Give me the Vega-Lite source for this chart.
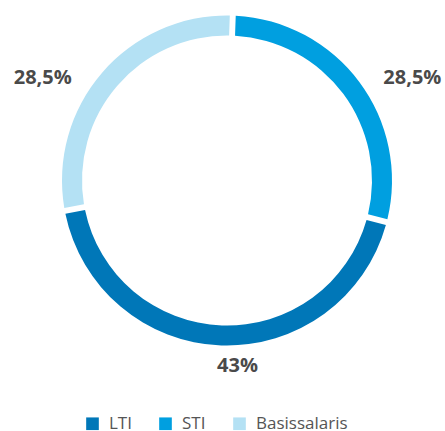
{
  "$schema": "https://vega.github.io/schema/vega-lite/v6.json",
  "width": 436,
  "height": 361,
  "autosize": {"type": "none"},
  "padding": {"left": 9, "top": 0, "right": 0, "bottom": 70},
  "background": "white",
  "config": {
    "view": {"stroke": null},
    "locale": {"number": {"decimal": ",", "thousands": ".", "grouping": [3], "currency": ["", " €"]}}
  },
  "data": {
    "values": [
      {"category": "STI", "share": 0.285, "order": 1},
      {"category": "LTI", "share": 0.43, "order": 2},
      {"category": "Basissalaris", "share": 0.285, "order": 3}
    ]
  },
  "encoding": {
    "theta": {"field": "share", "type": "quantitative", "stack": true, "scale": {"range": [0.035, 6.3182]}},
    "order": {"field": "order", "type": "quantitative"}
  },
  "layer": [
    {
      "mark": {"type": "arc", "innerRadius": 145, "outerRadius": 165, "padAngle": 0.027},
      "encoding": {
        "color": {
          "field": "category",
          "type": "nominal",
          "scale": {"domain": ["LTI", "STI", "Basissalaris"], "range": ["#0077b8", "#009fe0", "#b4e1f4"]},
          "legend": {
            "title": null,
            "orient": "none",
            "direction": "horizontal",
            "legendX": 75,
            "legendY": 415,
            "symbolType": "square",
            "symbolSize": 160,
            "symbolStrokeWidth": 0,
            "labelFont": "Open Sans",
            "labelFontSize": 17,
            "labelColor": "#555555",
            "labelOffset": 8,
            "columnPadding": 25,
            "padding": 0
          }
        }
      }
    },
    {
      "mark": {
        "type": "text",
        "radius": 185,
        "font": "Open Sans",
        "fontSize": 20,
        "fontWeight": "bold",
        "color": "#4a4a4a",
        "align": "center",
        "baseline": "middle",
        "dx": {"expr": "datum.category === 'STI' ? 37 : datum.category === 'LTI' ? 17 : -44"},
        "dy": {"expr": "datum.category === 'STI' ? 8 : datum.category === 'LTI' ? 1 : 18"}
      },
      "encoding": {
        "text": {"field": "share", "type": "quantitative", "format": ".1~%"}
      }
    }
  ]
}
